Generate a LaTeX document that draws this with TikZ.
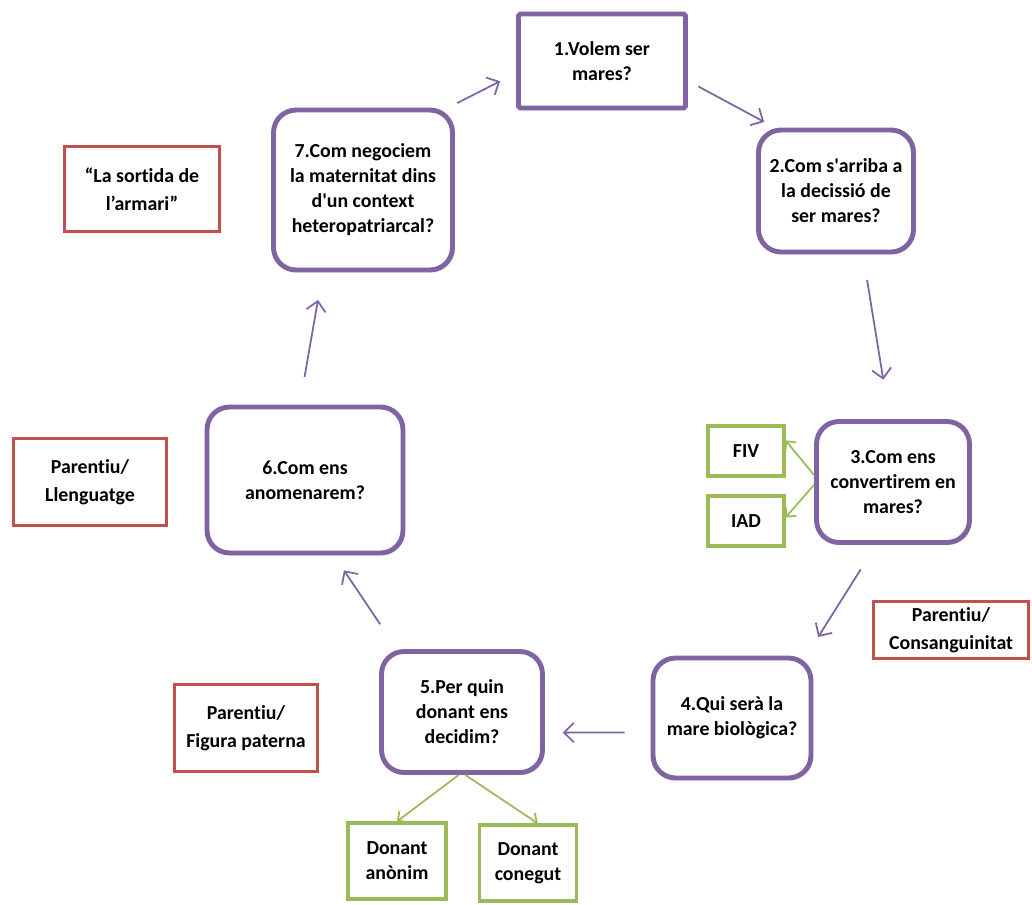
\documentclass[tikz,border=0pt]{standalone}
\usepackage{fontspec}
\setmainfont{Carlito}[Ligatures={NoCommon}]
\usetikzlibrary{arrows.meta,shadows}
\definecolor{lila}{HTML}{8064A2}
\definecolor{vermell}{HTML}{C0504D}
\definecolor{verd}{HTML}{9BBB59}

\begin{document}
\begin{tikzpicture}[x=0.02cm,y=-0.02cm,
  every node/.style={font=\bfseries\fontsize{11.3}{14.2}\selectfont,align=center,inner sep=2pt},
  pregunta/.style={draw=lila,line width=2.8pt,fill=white,rounded corners=0.45cm,
    drop shadow={opacity=0.18,shadow xshift=1pt,shadow yshift=-1.5pt}},
  tema/.style={draw=vermell,line width=1.7pt,font=\bfseries\fontsize{11.3}{16}\selectfont},
  opcio/.style={draw=verd,line width=1.8pt},
  cicle/.style={draw=lila,line width=1pt,-{Straight Barb[length=5.5pt,width=11pt]}},
  branca/.style={draw=verd,line width=1pt,-{Straight Barb[length=4pt,width=8pt]}}]
\useasboundingbox (0,0) rectangle (1032,904);
%\draw [help lines,step=1cm] (0,0) grid (1032,904);

% preguntes del cicle
\node[pregunta,rounded corners=1pt,minimum width=3.34cm,minimum height=1.88cm] (n1) at (602,61) {1.Volem ser\\mares?};
\node[pregunta,minimum width=3.10cm,minimum height=2.44cm] (n2) at (836,191) {2.Com s\textquotesingle arriba a\\la decissió de\\ser mares?};
\node[pregunta,minimum width=3.06cm,minimum height=2.42cm] (n3) at (893,482) {3.Com ens\\convertirem en\\mares?};
\node[pregunta,minimum width=3.16cm,minimum height=2.40cm] (n4) at (732,718) {4.Qui serà la\\mare biològica?};
\node[pregunta,minimum width=3.22cm,minimum height=2.42cm] (n5) at (462,712) {5.Per quin\\donant ens\\decidim?};
\node[pregunta,minimum width=3.92cm,minimum height=2.92cm] (n6) at (305,480) {6.Com ens\\anomenarem?};
\node[pregunta,minimum width=3.58cm,minimum height=3.20cm] (n7) at (363,190) {7.Com negociem\\la maternitat dins\\d\textquotesingle un context\\heteropatriarcal?};

% temes
\node[tema,minimum width=3.10cm,minimum height=1.14cm] (consang) at (951,630) {Parentiu/\\Consanguinitat};
\node[tema,minimum width=2.88cm,minimum height=1.74cm] (paterna) at (246,728) {Parentiu/\\Figura paterna};
\node[tema,minimum width=3.06cm,minimum height=1.74cm] (llenguatge) at (90,482) {Parentiu/\\Llenguatge};
\node[tema,minimum width=3.12cm,minimum height=1.70cm] (armari) at (142,189) {“La sortida de\\l’armari”};

% opcions
\node[opcio,minimum width=1.52cm,minimum height=1.00cm] (fiv) at (746,451) {FIV};
\node[opcio,minimum width=1.52cm,minimum height=1.00cm] (iad) at (746,521) {IAD};
\node[opcio,minimum width=1.96cm,minimum height=1.52cm] (anonim) at (397,861) {Donant\\anònim};
\node[opcio,minimum width=1.94cm,minimum height=1.52cm] (conegut) at (528,863) {Donant\\conegut};

% cicle
\draw[cicle,shorten <=6.8pt,shorten >=6.8pt] (n1.-13) -- (n2.134);
\draw[cicle,shorten <=14.7pt,shorten >=22.7pt] (n2.-67) -- (n3.93);
\draw[cicle,shorten <=16.4pt,shorten >=12.5pt] (n3.-105) -- (n4.40);
\draw[cicle,shorten <=14.7pt,shorten >=10.2pt] (n4.190) -- (n5.-14);
\draw[cicle,shorten <=17pt,shorten >=10.2pt] (n5.136) -- (n6.-69);
\draw[cicle,shorten <=15.9pt,shorten >=15.9pt] (n6.94) -- (n7.244);
\draw[cicle,shorten <=5.7pt,shorten >=10.2pt] (n7.44) -- (n1.188);

% branques
\draw[branca] (n3.175) -- (fiv.15);
\draw[branca] (n3.182) -- (iad.5);
\draw[branca] (n5.-93) -- (anonim.north);
\draw[branca] (n5.-87) -- (conegut.76);
\end{tikzpicture}
\end{document}
